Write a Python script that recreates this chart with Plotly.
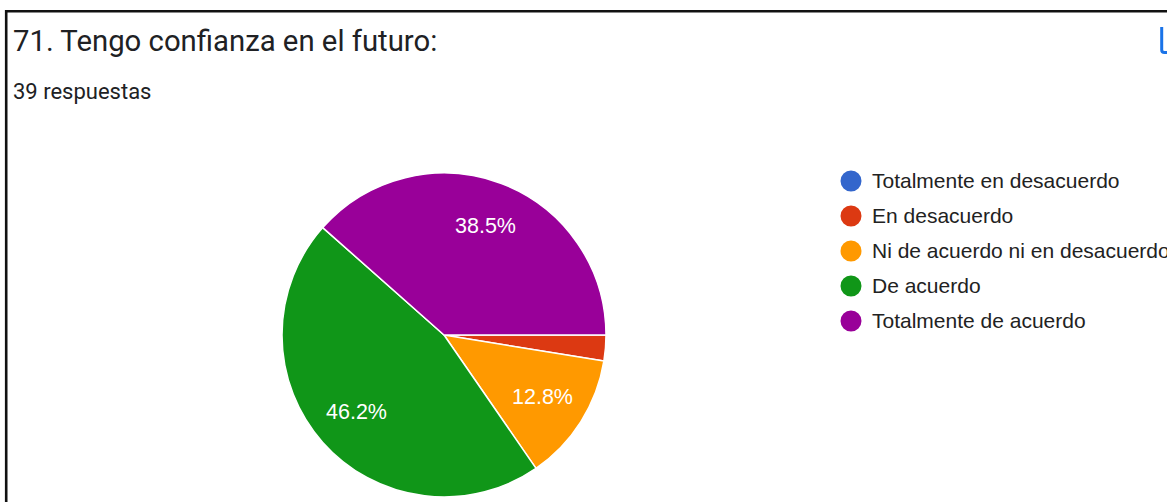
import math
import plotly.graph_objects as go

# Survey results: "71. Tengo confianza en el futuro:" (39 respuestas)
labels = [
    "Totalmente en desacuerdo",
    "En desacuerdo",
    "Ni de acuerdo ni en desacuerdo",
    "De acuerdo",
    "Totalmente de acuerdo",
]
counts = [0, 1, 5, 18, 15]
colors = ["#3366cc", "#dc3912", "#ff9900", "#109618", "#990099"]

title_text = "71. Tengo confianza en el futuro:"
subtitle_text = f"{sum(counts)} respuestas"

W, H = 1167, 502
CX, CY, R = 444, 335, 162          # pie centre and radius in pixels
START_DEG = 90                     # first slice starts at 3 o'clock, clockwise


def px(x):
    return x / W


def py(y):
    return 1 - y / H


fig = go.Figure()

fig.add_trace(go.Pie(
    labels=labels,
    values=counts,
    sort=False,
    direction="clockwise",
    rotation=START_DEG,
    marker=dict(colors=colors, line=dict(color="white", width=1.5)),
    textinfo="none",
    hoverinfo="label+percent",
    showlegend=False,
    domain=dict(x=[px(CX - R), px(CX + R)], y=[py(CY + R), py(CY - R)]),
))

annotations = []
shapes = []

# Percentage labels, placed along each slice's bisector
total = sum(counts)
cum = 0.0
for lab, v in zip(labels, counts):
    frac = v / total
    mid = cum + frac / 2
    cum += frac
    if frac < 0.05:
        continue
    ang = math.radians(START_DEG + mid * 360)   # clockwise from 12 o'clock
    lx = CX + 0.72 * R * math.sin(ang)
    ly = CY - 0.72 * R * math.cos(ang)
    annotations.append(dict(
        x=px(lx), y=py(ly), xref="paper", yref="paper",
        text=f"{frac * 100:.1f}%", showarrow=False,
        xanchor="center", yanchor="middle",
        font=dict(family="Liberation Sans, Arial", size=21.5, color="white"),
    ))

# Legend with round swatches
for i, (lab, col) in enumerate(zip(labels, colors)):
    ry = 181 + 35 * i
    shapes.append(dict(
        type="circle", xref="paper", yref="paper",
        x0=px(851 - 10.5), x1=px(851 + 10.5),
        y0=py(ry + 10.5), y1=py(ry - 10.5),
        fillcolor=col, line=dict(width=0),
    ))
    annotations.append(dict(
        x=px(870), y=py(ry - 0.5), xref="paper", yref="paper",
        text=lab, showarrow=False, xanchor="left", yanchor="middle",
        font=dict(family="Liberation Sans, Arial", size=21, color="#222222"),
    ))

# Title and response count
annotations.append(dict(
    x=px(11), y=py(41), xref="paper", yref="paper",
    text=title_text, showarrow=False, xanchor="left", yanchor="middle",
    font=dict(family="Roboto", size=29.3, color="#202124"),
))
annotations.append(dict(
    x=px(11), y=py(91.5), xref="paper", yref="paper",
    text=subtitle_text, showarrow=False, xanchor="left", yanchor="middle",
    font=dict(family="Roboto", size=22, color="#202124"),
))

# Card frame (top and left edges)
shapes.append(dict(type="line", xref="paper", yref="paper",
                   x0=px(5), x1=1, y0=py(11.2), y1=py(11.2),
                   line=dict(color="#111111", width=2.6)))
shapes.append(dict(type="line", xref="paper", yref="paper",
                   x0=px(6.2), x1=px(6.2), y0=py(10), y1=0,
                   line=dict(color="#111111", width=2.6)))

# Corner of the copy-chart icon at the top right
shapes.append(dict(
    type="path", xref="paper", yref="paper",
    path=(f"M {px(1161.7)} {py(27)} L {px(1161.7)} {py(50)} "
          f"Q {px(1161.7)} {py(52.6)} {px(1164.5)} {py(52.6)} L {px(1172)} {py(52.6)}"),
    line=dict(color="#1a73e8", width=3),
))

fig.update_layout(
    width=W, height=H,
    margin=dict(l=0, r=0, t=0, b=0),
    paper_bgcolor="white",
    plot_bgcolor="white",
    annotations=annotations,
    shapes=shapes,
)

fig.write_html("out.html")
